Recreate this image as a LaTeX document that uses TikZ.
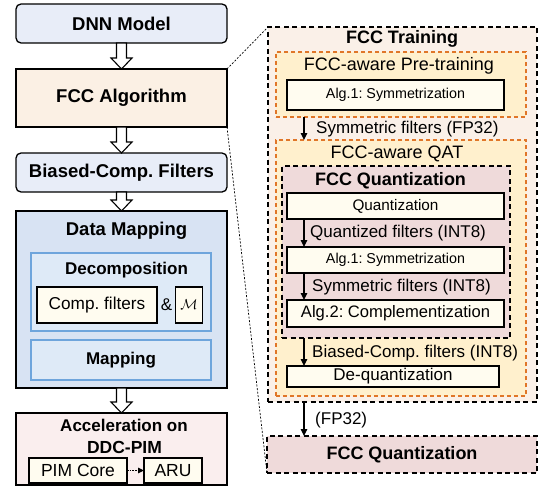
\documentclass[tikz,border=0pt]{standalone}
\usepackage{fontspec}
\setmainfont{Liberation Sans}
\usetikzlibrary{arrows.meta,calc}
\frenchspacing

\definecolor{bluebox}{RGB}{232,237,248}
\definecolor{peach}{RGB}{251,240,228}
\definecolor{mapblue}{RGB}{216,227,243}
\definecolor{decblue}{RGB}{222,234,247}
\definecolor{decline}{RGB}{110,165,220}
\definecolor{cream}{RGB}{255,252,240}
\definecolor{accpink}{RGB}{250,238,238}
\definecolor{trainbg}{RGB}{250,240,232}
\definecolor{stagebg}{RGB}{255,240,205}
\definecolor{stageline}{RGB}{224,118,40}
\definecolor{quantpink}{RGB}{239,218,218}

\newcommand\txtsize[1]{\fontsize{#1}{#1}\selectfont}

% hollow block arrow from the bottom of one node to the top of the next
\newcommand\hollowarrow[2]{%
  \draw[hollow] let \p1=(#1.south), \p2=(#2.north) in
    (\x1-5pt,\y1) -- (\x1+5pt,\y1) -- (\x1+5pt,\y2+11pt) -- (\x1+10.5pt,\y2+11pt)
    -- (\x1,\y2) -- (\x1-10.5pt,\y2+11pt) -- (\x1-5pt,\y2+11pt) -- cycle;}

\tikzset{
  base/.style={inner sep=0pt, outer sep=0pt, line width=1.3pt},
  mainbox/.style={base, draw=black, minimum width=211pt},
  roundbox/.style={mainbox, rounded corners=5pt, fill=bluebox},
  subbox/.style={base, draw=decline, fill=decblue, line width=1.2pt},
  creambox/.style={base, draw=black, fill=cream},
  stage/.style={base, draw=stageline, fill=stagebg, dashed, line width=1.1pt,
    dash pattern=on 4pt off 3pt},
  blackdash/.style={base, draw=black, dashed, line width=1.2pt,
    dash pattern=on 5pt off 3.5pt},
  hollow/.style={draw=black, fill=white, line width=1.1pt, line join=miter},
  flow/.style={line width=1.2pt, -{Triangle[length=7pt,width=6.5pt]}},
  flowlabel/.style={anchor=west, inner sep=0pt, font=\txtsize{17}},
  link/.style={line width=0.7pt, dash pattern=on 2pt off 1.6pt},
}

\begin{document}
\begin{tikzpicture}[x=1pt,y=-1pt]
\useasboundingbox (0,0) rectangle (540,495);

% ---------------- left column: overall flow ----------------
\node[roundbox, minimum height=39pt, font=\bfseries\txtsize{18.5}] (dnn) at (121.5,23.5) {DNN Model};
\node[mainbox, fill=peach, minimum height=58pt, font=\bfseries\txtsize{18.5}] (falg) at (121.5,98) {FCC Algorithm};
\node[roundbox, minimum height=39pt, font=\bfseries\txtsize{18.5}] (bias) at (121.5,172.5) {Biased-Comp. Filters};

\node[mainbox, fill=mapblue, minimum height=177pt] (dmap) at (121.5,299.5) {};
\node[font=\bfseries\txtsize{18.5}] (dmaptitle) at (126.5,231) {Data Mapping};
\node[subbox, minimum width=180pt, minimum height=78pt] (decomp) at (121,292) {};
\node[font=\bfseries\txtsize{17}] (decomptitle) at (126.5,270) {Decomposition};
\node[creambox, minimum width=120pt, minimum height=36pt, font=\txtsize{17.2}] (comp) at (97,305) {Comp. filters};
\node[font=\txtsize{17}] (amp) at (166.5,305) {\&};
\node[creambox, minimum width=27pt, minimum height=36pt, font=\txtsize{14}] (mset) at (189,305) {$\mathcal{M}$};
\node[subbox, minimum width=180pt, minimum height=40pt, font=\bfseries\txtsize{17}] (mapping) at (121,360) {Mapping};

\node[mainbox, fill=accpink, minimum height=72pt] (accel) at (121.5,449) {};
\node[font=\bfseries\txtsize{17}] (accelline1) at (124,425) {Acceleration on};
\node[font=\bfseries\txtsize{17.5}] (accelline2) at (124.5,447) {DDC-PIM};
\node[creambox, minimum width=98pt, minimum height=25pt, font=\txtsize{17.5}] (pim) at (78,470.5) {PIM Core};
\node[creambox, minimum width=58pt, minimum height=25pt, font=\txtsize{17.5}] (aru) at (173,470.5) {ARU};
\draw[line width=1pt, dash pattern=on 1.5pt off 1.2pt, -{Triangle[length=6pt,width=5.5pt]}] (pim) -- (aru);

\hollowarrow{dnn}{falg}
\hollowarrow{falg}{bias}
\hollowarrow{bias}{dmap}
\hollowarrow{dmap}{accel}

% ---------------- right panel: FCC training ----------------
\node[blackdash, fill=trainbg, minimum width=269pt, minimum height=375pt] (train) at (402.5,214.5) {};
\node[font=\bfseries\txtsize{18}] (traintitle) at (402,38.5) {FCC Training};

\node[stage, minimum width=250pt, minimum height=65pt] (pre) at (401,84.5) {};
\node[font=\txtsize{18}] (pretitle) at (399,66) {FCC-aware Pre-training};
\node[creambox, minimum width=217pt, minimum height=30pt, font=\txtsize{14.3}] (alg1a) at (395.5,95) {Alg.1: Symmetrization};

\node[stage, minimum width=250pt, minimum height=256pt] (qat) at (401,268) {};
\node[font=\txtsize{18}] (qattitle) at (397,153.5) {FCC-aware QAT};

\node[blackdash, fill=quantpink, minimum width=228pt, minimum height=172pt] (fccq) at (396,252) {};
\node[font=\bfseries\txtsize{18}] (fccqtitle) at (390.5,180.5) {FCC Quantization};
\node[creambox, minimum width=217pt, minimum height=26pt, font=\txtsize{15.3}] (quant) at (395.5,206) {Quantization};
\node[creambox, minimum width=217pt, minimum height=26pt, font=\txtsize{14.3}] (alg1b) at (395.5,260) {Alg.1: Symmetrization};
\node[creambox, minimum width=217pt, minimum height=27pt, font=\txtsize{16.6}] (alg2) at (395.5,313.5) {Alg.2: Complementization};
\node[creambox, minimum width=212pt, minimum height=21pt, font=\txtsize{17}] (dequant) at (393,376.5) {De-quantization};

\node[blackdash, fill=quantpink, minimum width=270pt, minimum height=37pt, font=\bfseries\txtsize{18}] (final) at (402,454.5) {FCC Quantization};

% vertical flow arrows and their labels
\coordinate (ax) at (304,0);
\draw[flow] (pre.south -| ax) -- (qat.north -| ax);
\node[flowlabel] (l1) at (316,129) {Symmetric filters (FP32)};
\draw[flow] (quant.south -| ax) -- (alg1b.north -| ax);
\node[flowlabel] (l2) at (310,233) {Quantized filters (INT8)};
\draw[flow] (alg1b.south -| ax) -- (alg2.north -| ax);
\node[flowlabel] (l3) at (312,287) {Symmetric filters (INT8)};
\draw[flow] (fccq.south -| ax) -- (dequant.north -| ax);
\node[flowlabel] (l4) at (312,353) {Biased-Comp. filters (INT8)};
\draw[flow] (train.south -| ax) -- (final.north -| ax);
\node[flowlabel] (l5) at (315,420) {(FP32)};

% zoom-out links from the algorithm box to the panel
\draw[link] (falg.north east) -- (train.north west);
\draw[link] (falg.south east) -- (final.south west);
\end{tikzpicture}
\end{document}
